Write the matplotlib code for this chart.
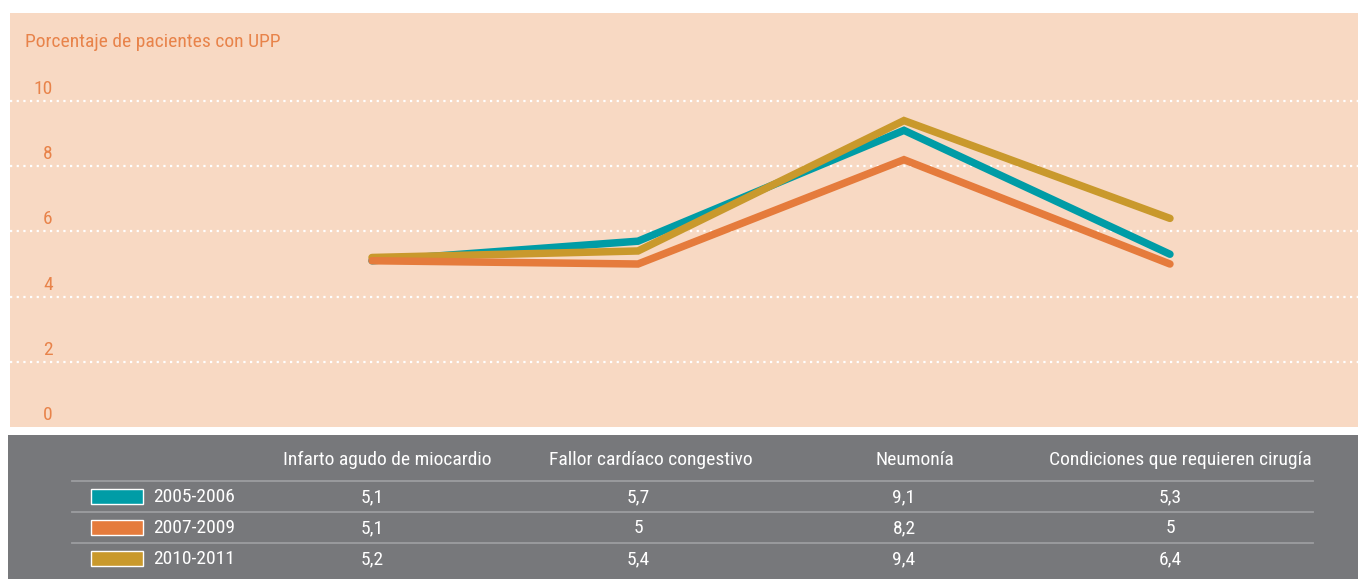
import matplotlib.pyplot as plt
import matplotlib.transforms as mtransforms
from matplotlib.patches import Rectangle

# data
categories = ['Infarto agudo de miocardio', 'Fallor cardíaco congestivo',
              'Neumonía', 'Condiciones que requieren cirugía']
periods = ['2005-2006', '2007-2009', '2010-2011']
vals_2005 = [5.1, 5.7, 9.1, 5.3]
vals_2007 = [5.1, 5.0, 8.2, 5.0]
vals_2010 = [5.2, 5.4, 9.4, 6.4]
labels_2005 = ['5,1', '5,7', '9,1', '5,3']
labels_2007 = ['5,1', '5', '8,2', '5']
labels_2010 = ['5,2', '5,4', '9,4', '6,4']
yticks = [0, 2, 4, 6, 8, 10]

teal = '#009ca6'
orange = '#e57b3c'
gold = '#c9992c'
peach = '#f8d9c3'
grey = '#77787b'
txt_orange = '#e8834a'

plt.rcParams['font.family'] = ['Roboto Condensed', 'IBM Plex Sans Condensed', 'DejaVu Sans']
FS = 14

W, H = 1358, 579
fig = plt.figure(figsize=(W / 100, H / 100), dpi=100)


def rect(x0, y0, x1, y1):
    return [x0 / W, 1 - y1 / H, (x1 - x0) / W, (y1 - y0) / H]


# chart panel
ax = fig.add_axes(rect(10, 13, 1358, 427))
ax.set_facecolor(peach)
ax.set_xlim(-1.361, 3.707)
ax.set_ylim(0, 12.7)
for s in ax.spines.values():
    s.set_visible(False)
ax.set_xticks([])
ax.set_yticks([])

for t in yticks[1:]:
    ax.axhline(t, color='white', lw=1.6, ls=(0, (1, 2)), zorder=1)

ylab = mtransforms.offset_copy(ax.transData, fig=fig, x=0, y=3, units='dots')
for t in yticks:
    ax.text(-1.2, t, str(t), color=txt_orange, fontsize=FS,
            ha='right', va='bottom', transform=ylab)

ax.text(15 / 1348, 1 - 29 / 414, 'Porcentaje de pacientes con UPP',
        transform=ax.transAxes, color=txt_orange, fontsize=FS,
        ha='left', va='center')

x = range(len(categories))
for vals, c in [(vals_2005, teal), (vals_2010, gold), (vals_2007, orange)]:
    ax.plot(x, vals, color=c, lw=5.4, solid_capstyle='round',
            solid_joinstyle='miter', zorder=3)

# table panel
tab = fig.add_axes(rect(8, 435, 1358, 579))
tab.set_facecolor(grey)
tab.set_xlim(8, 1358)
tab.set_ylim(579, 435)
for s in tab.spines.values():
    s.set_visible(False)
tab.set_xticks([])
tab.set_yticks([])

colx = mtransforms.blended_transform_factory(ax.transData, tab.transData)

header_x = [387, 651, 915, 1180]
for hx, name in zip(header_x, categories):
    tab.text(hx, 460, name, color='white', fontsize=FS, ha='center', va='center')

for ysep in [481, 512, 543]:
    tab.plot([72, 1313], [ysep, ysep], color='#9c9da0', lw=1.3)

rows = [(periods[0], teal, labels_2005, 497),
        (periods[1], orange, labels_2007, 528),
        (periods[2], gold, labels_2010, 559)]
for name, c, labs, yy in rows:
    tab.add_patch(Rectangle((91, yy - 8), 52, 15, facecolor=c,
                            edgecolor='white', lw=1))
    tab.text(153, yy, name, color='white', fontsize=FS, ha='left', va='center')
    for i, lab in enumerate(labs):
        tab.text(i, yy, lab, color='white', fontsize=FS, ha='center',
                 va='center', transform=colx)

fig.savefig('out.png', dpi=100)
